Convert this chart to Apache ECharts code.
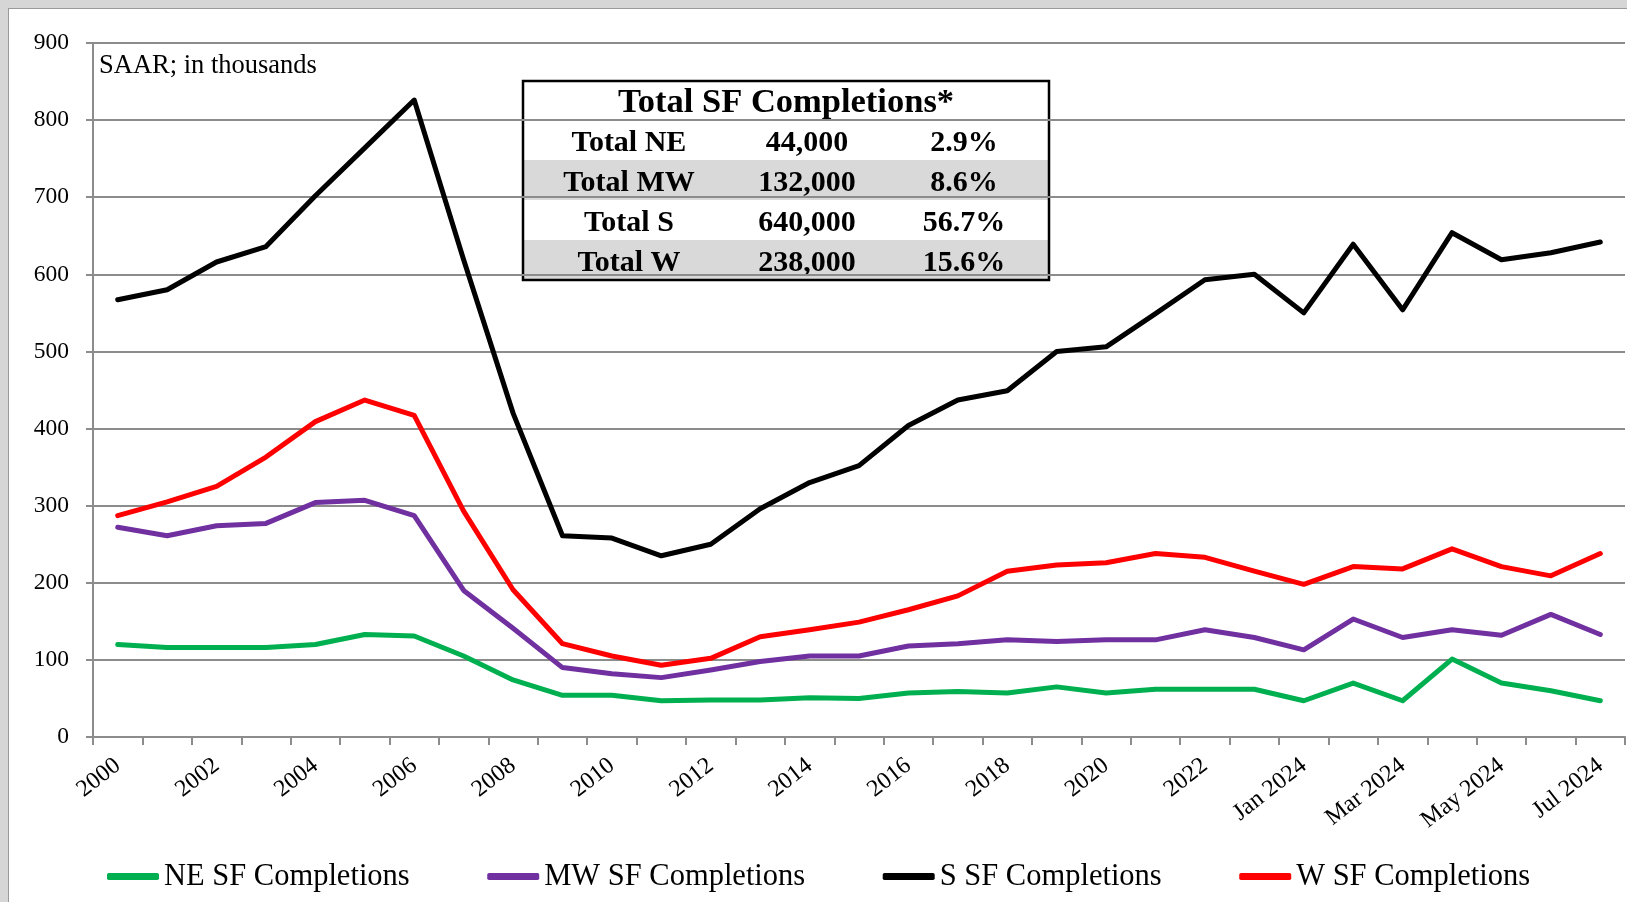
<!DOCTYPE html>
<html>
<head>
<meta charset="utf-8">
<script src="https://cdn.jsdelivr.net/npm/echarts@6/dist/echarts.min.js"></script>
<style>
  html, body { margin: 0; padding: 0; width: 1627px; height: 902px; overflow: hidden; background: #d6d6d6; }
  #panel { position: absolute; left: 8px; top: 8px; width: 1640px; height: 920px; background: #ffffff; border: 1px solid #9a9a9a; }
  #chart { position: absolute; left: 0; top: 0; width: 1627px; height: 902px; }
</style>
</head>
<body>
<div id="panel"></div>
<div id="chart"></div>
<script>
// ---- data ----
const categories = ['2000','2001','2002','2003','2004','2005','2006','2007','2008','2009','2010','2011',
  '2012','2013','2014','2015','2016','2017','2018','2019','2020','2021','2022','2023',
  'Jan 2024','Feb 2024','Mar 2024','Apr 2024','May 2024','Jun 2024','Jul 2024'];

const seriesNames = ['NE SF Completions','MW SF Completions','S SF Completions','W SF Completions'];

const neValues = [120,116,116,116,120,133,131,105,74,54,54,47,48,48,51,50,57,59,57,65,57,62,62,62,47,70,47,101,70,60,47];
const mwValues = [272,261,274,277,304,307,287,190,141,90,82,77,87,98,105,105,118,121,126,124,126,126,139,129,113,153,129,139,132,159,133];
const sValues  = [567,580,616,636,702,764,826,619,420,261,258,235,250,296,330,352,404,437,449,500,506,549,593,600,550,639,554,654,619,628,642];
const wValues  = [287,305,325,363,409,437,417,293,191,121,105,93,102,130,139,149,165,183,215,223,226,238,233,215,198,221,218,244,221,209,238];

const yTicks = [0,100,200,300,400,500,600,700,800,900];

const unitNote = 'SAAR; in thousands';
const tableTitle = 'Total SF Completions*';
const tableLabels = ['Total NE','Total MW','Total S','Total W'];
const tableCounts = ['44,000','132,000','640,000','238,000'];
const tablePcts = ['2.9%','8.6%','56.7%','15.6%'];

// ---- styles ----
const colors = ['#00b050','#7030a0','#000000','#ff0000'];
const FONT = 'Liberation Serif';
const allValues = [neValues, mwValues, sValues, wValues];

// ---- table graphic ----
const tb = { x: 523, y: 81, w: 526, h: 199, headH: 39, rowH: 40 };
const colCenters = [106, 284, 441];
const tableChildren = [];
tableChildren.push({ type: 'rect', shape: { x: 0, y: 0, width: tb.w, height: tb.h }, style: { fill: '#ffffff', stroke: null } });
tableLabels.forEach((lab, i) => {
  const top = tb.headH + i * tb.rowH;
  if (i % 2 === 1) {
    tableChildren.push({ type: 'rect', shape: { x: 0, y: top, width: tb.w, height: tb.rowH }, style: { fill: '#d9d9d9' } });
  }
  [lab, tableCounts[i], tablePcts[i]].forEach((t, j) => {
    tableChildren.push({ type: 'text', x: colCenters[j], y: top + tb.rowH / 2 + 3,
      style: { text: t, fontFamily: FONT, fontWeight: 'bold', fontSize: 30, fill: '#000', align: 'center', verticalAlign: 'middle' } });
  });
});
tableChildren.push({ type: 'text', x: tb.w / 2, y: tb.headH / 2 + 3,
  style: { text: tableTitle, fontFamily: FONT, fontWeight: 'bold', fontSize: 34.5, fill: '#000', align: 'center', verticalAlign: 'middle' } });
tableChildren.push({ type: 'line', shape: { x1: 0, y1: tb.headH, x2: tb.w, y2: tb.headH }, style: { stroke: '#000', lineWidth: 2 } });
tableChildren.push({ type: 'rect', shape: { x: 0, y: 0, width: tb.w, height: tb.h }, style: { fill: null, stroke: '#000', lineWidth: 2.5 } });

const chart = echarts.init(document.getElementById('chart'), null, { renderer: 'canvas' });
chart.setOption({
  backgroundColor: 'transparent',
  animation: false,
  textStyle: { fontFamily: FONT },
  grid: { left: 93, right: 2, top: 43, bottom: 165, containLabel: false },
  xAxis: {
    type: 'category',
    data: categories,
    boundaryGap: true,
    axisLine: { show: true, lineStyle: { color: '#8c8c8c', width: 2 } },
    axisTick: { show: true, interval: 0, length: 8, lineStyle: { color: '#8c8c8c', width: 2 } },
    axisLabel: {
      interval: 1, rotate: 38, margin: 26, color: '#000',
      fontFamily: FONT, fontSize: 24,
      formatter: (v) => '{t|' + v + '}',
      rich: { t: { fontFamily: FONT, fontSize: 24, color: '#000' } }
    },
    splitLine: { show: false }
  },
  yAxis: {
    type: 'value',
    min: yTicks[0],
    max: yTicks[yTicks.length - 1],
    interval: yTicks[1] - yTicks[0],
    axisLine: { show: true, lineStyle: { color: '#8c8c8c', width: 2 } },
    axisTick: { show: true, length: 7, lineStyle: { color: '#8c8c8c', width: 2 } },
    axisLabel: {
      margin: 24, color: '#000', fontFamily: FONT, fontSize: 23,
      formatter: (v) => '{t|' + v + '}',
      rich: { t: { fontFamily: FONT, fontSize: 23.5, color: '#000' } }
    },
    splitLine: { show: true, lineStyle: { color: '#8c8c8c', width: 2 } }
  },
  legend: {
    data: seriesNames,
    left: 102,
    top: 856,
    itemGap: 77.5,
    itemWidth: 52,
    itemHeight: 7,
    icon: 'roundRect',
    textStyle: { fontFamily: FONT, fontSize: 30.5, color: '#000', padding: [0, 0, 0, 0] }
  },
  graphic: [
    { type: 'text', left: 99, top: 53, z: 10,
      style: { text: unitNote, fontFamily: FONT, fontSize: 26.5, fill: '#000' } },
    { type: 'group', x: tb.x, y: tb.y, z: 10, children: tableChildren }
  ],
  series: seriesNames.map((name, i) => ({
    name: name,
    type: 'line',
    data: allValues[i],
    symbol: 'none',
    smooth: false,
    lineStyle: { color: colors[i], width: 5, cap: 'round', join: 'round' },
    itemStyle: { color: colors[i] },
    z: 3
  }))
});
</script>
</body>
</html>
